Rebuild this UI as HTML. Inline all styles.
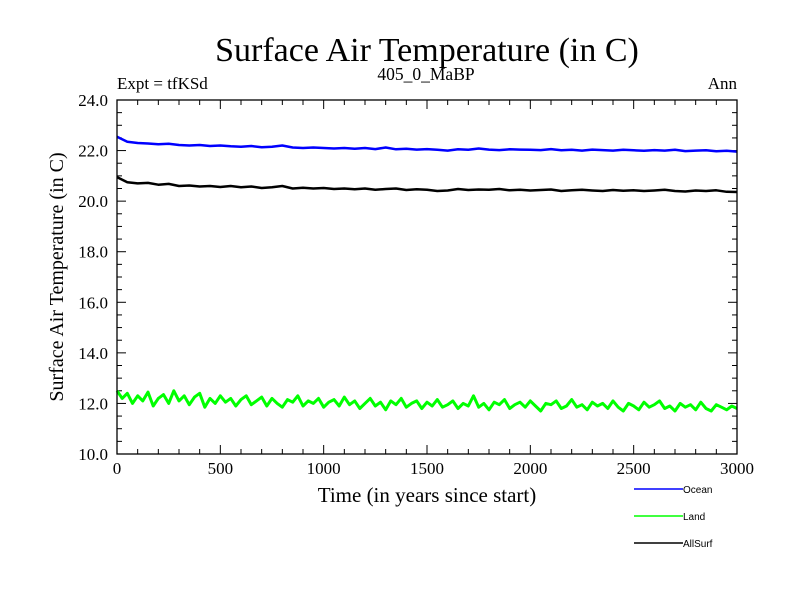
<!DOCTYPE html>
<html><head><meta charset="utf-8"><style>
body{margin:0;background:#fff;}
svg text{font-family:"Liberation Serif",serif;}
</style></head><body>
<svg id="chart" width="800" height="600" xmlns="http://www.w3.org/2000/svg">
<text x="427" y="61" font-size="34" text-anchor="middle">Surface Air Temperature (in C)</text>
<text x="426" y="80" font-size="17.5" text-anchor="middle">405_0_MaBP</text>
<text x="117" y="89" font-size="17">Expt = tfKSd</text>
<text x="737" y="89" font-size="17" text-anchor="end">Ann</text>
<text x="427" y="502" font-size="21" text-anchor="middle">Time (in years since start)</text>
<text transform="translate(63,277) rotate(-90)" font-size="20" text-anchor="middle">Surface Air Temperature (in C)</text>
<g id="ticks"></g>
<g id="series"></g>
<rect x="117" y="100" width="620" height="354" fill="none" stroke="#000" stroke-width="1.3"/>
<g id="legend"></g>
</svg>
<script>
const xTicks=[0,500,1000,1500,2000,2500,3000];
const yTicks=[10,12,14,16,18,20,22,24];
const yTickLabels=["10.0","12.0","14.0","16.0","18.0","20.0","22.0","24.0"];
const oceanVals=[22.55,22.35,22.3,22.28,22.25,22.27,22.22,22.2,22.22,22.18,22.2,22.17,22.15,22.18,22.13,22.15,22.2,22.12,22.1,22.12,22.1,22.08,22.1,22.07,22.1,22.06,22.12,22.05,22.07,22.04,22.06,22.03,22.0,22.05,22.03,22.08,22.04,22.02,22.05,22.04,22.03,22.02,22.06,22.01,22.03,22.0,22.04,22.02,22.0,22.03,22.01,21.99,22.02,22.0,22.03,21.98,22.0,22.01,21.97,21.99,21.96];
const allVals=[20.95,20.75,20.7,20.72,20.65,20.68,20.6,20.62,20.58,20.6,20.56,20.6,20.55,20.58,20.52,20.55,20.6,20.5,20.53,20.5,20.52,20.48,20.5,20.47,20.5,20.45,20.48,20.5,20.44,20.47,20.45,20.4,20.42,20.48,20.44,20.46,20.45,20.48,20.43,20.45,20.42,20.44,20.46,20.4,20.43,20.45,20.42,20.4,20.44,20.41,20.43,20.4,20.42,20.45,20.4,20.38,20.42,20.4,20.43,20.37,20.36];
const landVals=[12.5,12.2,12.4,12.0,12.3,12.1,12.45,11.9,12.2,12.35,12.0,12.5,12.1,12.3,11.95,12.25,12.4,11.85,12.2,12.0,12.3,12.05,12.2,11.9,12.15,12.3,11.95,12.1,12.25,11.9,12.2,12.0,11.85,12.15,12.05,12.3,11.9,12.1,12.0,12.2,11.85,12.05,12.15,11.9,12.25,11.95,12.1,11.8,12.0,12.2,11.9,12.05,11.75,12.1,11.95,12.2,11.85,12.0,12.1,11.8,12.05,11.9,12.15,11.85,11.95,12.1,11.8,12.0,11.9,12.3,11.85,12.0,11.75,12.05,11.95,12.15,11.8,11.95,12.05,11.85,12.1,11.9,11.7,12.0,11.95,12.1,11.8,11.9,12.15,11.85,11.95,11.75,12.05,11.9,12.0,11.8,12.1,11.85,11.7,12.0,11.9,11.75,12.05,11.85,11.95,12.1,11.8,11.9,11.7,12.0,11.85,11.95,11.75,12.05,11.8,11.7,11.95,11.85,11.75,11.9,11.8];
const legendNames=["Ocean","Land","AllSurf"];
const legendColors=["#0000ff","#00ff00","#000000"];
const NS="http://www.w3.org/2000/svg";
const X0=117,X1=737,Y0=454,Y1=100;
function xs(v){return X0+(v-0)/3000*(X1-X0);}
function ys(v){return Y0-(v-10)/14*(Y0-Y1);}
function mk(tag,attrs,parent){const e=document.createElementNS(NS,tag);for(const k in attrs)e.setAttribute(k,attrs[k]);parent.appendChild(e);return e;}
const tg=document.getElementById('ticks');
for(let v=0;v<=3000;v+=100){const major=v%500===0;const L=major?9:5;const x=xs(v);
 const t1=mk('line',{x1:x,x2:x,y1:Y0,y2:Y0-L,stroke:'#000'},tg);
 
 
 const t2=mk('line',{x1:x,x2:x,y1:Y1,y2:Y1+L,stroke:'#000'},tg);
 
 }
for(let v=10;v<=24.001;v+=0.5){const major=Math.abs(v-Math.round(v/2)*2)<0.01;const L=major?9:5;const y=ys(v);
 const t1=mk('line',{x1:X0,x2:X0+L,y1:y,y2:y,stroke:'#000'},tg);
 
 
 const t2=mk('line',{x1:X1,x2:X1-L,y1:y,y2:y,stroke:'#000'},tg);
 
 }
xTicks.forEach(v=>{const t=mk('text',{x:xs(v),y:474,'font-size':17,'text-anchor':'middle'},tg);t.textContent=v;
 
 });
yTicks.forEach((v,i)=>{const t=mk('text',{x:108,y:ys(v)+6,'font-size':17,'text-anchor':'end'},tg);t.textContent=yTickLabels[i];
 
 });
const sg=document.getElementById('series');
function line(vals,color,w,name){const n=vals.length;const pts=vals.map((v,i)=>xs(i*3000/(n-1)).toFixed(1)+','+ys(v).toFixed(1)).join(' ');
 const p=mk('polyline',{points:pts,fill:'none',stroke:color,'stroke-width':w,'stroke-linejoin':'round'},sg);
 
 }
line(oceanVals,'#0000ff',2.5,'ocean-line');
line(allVals,'#000000',2.5,'allsurf-line');
line(landVals,'#00ff00',3,'land-line');
const lg=document.getElementById('legend');
legendNames.forEach((n,i)=>{const y=489+i*27;
 const l=mk('line',{x1:634,x2:683,y1:y,y2:y,stroke:legendColors[i],'stroke-width':1.5},lg);
 
 
 const t=mk('text',{x:683,y:y+4,'font-size':10},lg);t.textContent=n;t.style.fontFamily='"Liberation Sans",sans-serif';
 
 });
</script>
</body></html>
